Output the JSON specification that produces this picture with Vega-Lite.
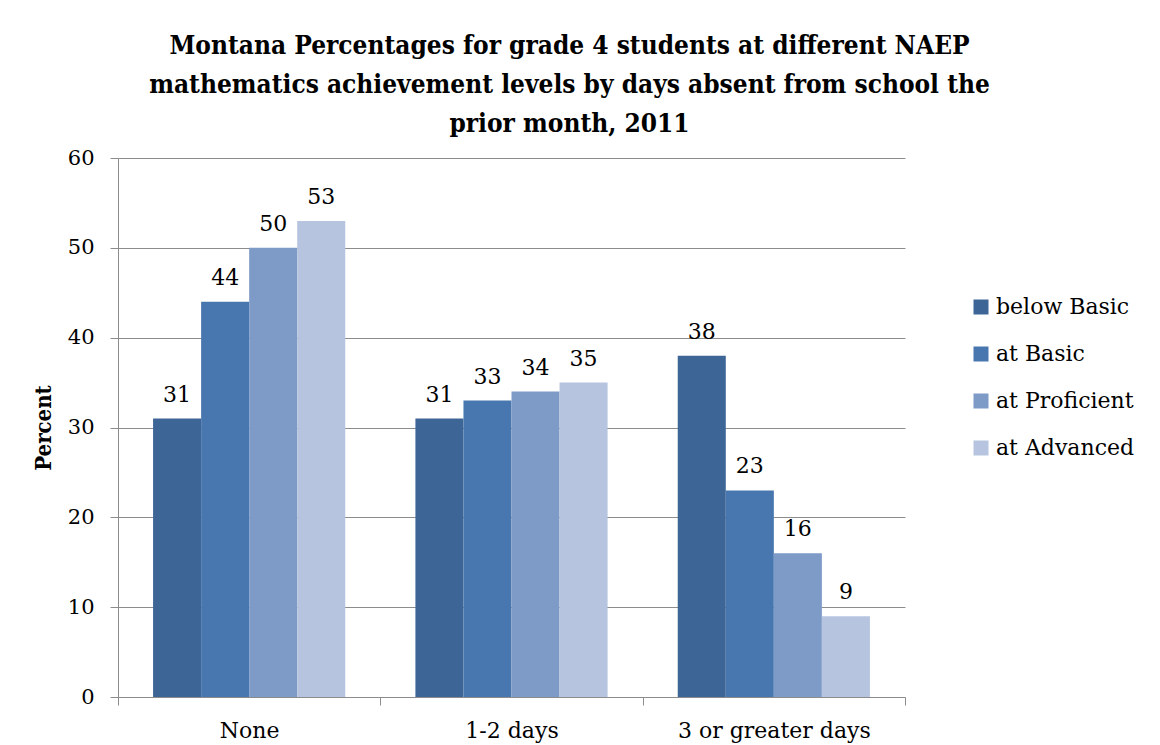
{
  "$schema": "https://vega.github.io/schema/vega-lite/v6.json",
  "width": 787,
  "height": 539,
  "autosize": {"type": "none"},
  "padding": {"left": 118, "top": 158, "right": 255, "bottom": 48},
  "background": "white",
  "title": {
    "text": ["Montana Percentages for grade 4 students at different NAEP", "mathematics achievement levels by days absent from school the", "prior month, 2011"],
    "font": "DejaVu Serif Condensed",
    "fontSize": 26,
    "fontWeight": "bold",
    "lineHeight": 39,
    "color": "#000000",
    "anchor": "middle",
    "dx": 58,
    "offset": 10
  },
  "data": {
    "values": [
      {"days": "None", "level": "below Basic", "pct": 31},
      {"days": "None", "level": "at Basic", "pct": 44},
      {"days": "None", "level": "at Proficient", "pct": 50},
      {"days": "None", "level": "at Advanced", "pct": 53},
      {"days": "1-2 days", "level": "below Basic", "pct": 31},
      {"days": "1-2 days", "level": "at Basic", "pct": 33},
      {"days": "1-2 days", "level": "at Proficient", "pct": 34},
      {"days": "1-2 days", "level": "at Advanced", "pct": 35},
      {"days": "3 or greater days", "level": "below Basic", "pct": 38},
      {"days": "3 or greater days", "level": "at Basic", "pct": 23},
      {"days": "3 or greater days", "level": "at Proficient", "pct": 16},
      {"days": "3 or greater days", "level": "at Advanced", "pct": 9}
    ]
  },
  "encoding": {
    "x": {
      "field": "days",
      "type": "nominal",
      "sort": ["None", "1-2 days", "3 or greater days"],
      "scale": {"paddingInner": 0, "paddingOuter": 0},
      "axis": {
        "title": null,
        "labelAngle": 0,
        "labelFont": "DejaVu Serif",
        "labelFontSize": 22,
        "labelColor": "#000000",
        "labelPadding": 15,
        "labelLimit": 400,
        "tickBand": "extent",
        "tickSize": 8,
        "tickColor": "#8c8c8c",
        "domainColor": "#8c8c8c",
        "grid": false
      }
    },
    "xOffset": {
      "field": "level",
      "type": "nominal",
      "sort": ["below Basic", "at Basic", "at Proficient", "at Advanced"],
      "scale": {"paddingInner": 0, "paddingOuter": 0.73}
    },
    "y": {
      "field": "pct",
      "type": "quantitative",
      "scale": {"domain": [0, 60], "nice": false},
      "axis": {
        "title": "Percent",
        "titleFont": "DejaVu Serif Condensed",
        "titleFontSize": 22,
        "titleFontWeight": "bold",
        "titleColor": "#000000",
        "titlePadding": 12,
        "values": [0, 10, 20, 30, 40, 50, 60],
        "labelFont": "DejaVu Serif",
        "labelFontSize": 21,
        "labelColor": "#000000",
        "labelPadding": 16,
        "tickSize": 8,
        "tickColor": "#8c8c8c",
        "domainColor": "#8c8c8c",
        "gridColor": "#8c8c8c",
        "gridWidth": 1
      }
    }
  },
  "layer": [
    {
      "mark": {"type": "bar"},
      "encoding": {
        "color": {
          "field": "level",
          "type": "nominal",
          "sort": ["below Basic", "at Basic", "at Proficient", "at Advanced"],
          "scale": {
            "domain": ["below Basic", "at Basic", "at Proficient", "at Advanced"],
            "range": ["#3D6596", "#4877B0", "#7E9BC8", "#B6C4DF"]
          },
          "legend": {
            "title": null,
            "orient": "none",
            "legendX": 852,
            "legendY": 138,
            "symbolType": "square",
            "symbolSize": 225,
            "symbolStrokeWidth": 0,
            "labelFont": "DejaVu Serif",
            "labelFontSize": 22,
            "labelColor": "#000000",
            "labelOffset": 4,
            "rowPadding": 25,
            "labelLimit": 300
          }
        }
      }
    },
    {
      "mark": {"type": "text", "baseline": "alphabetic", "dy": -17, "font": "DejaVu Serif", "fontSize": 22, "color": "#000000"},
      "encoding": {
        "text": {"field": "pct", "type": "quantitative"}
      }
    }
  ],
  "config": {
    "view": {"stroke": null}
  }
}
